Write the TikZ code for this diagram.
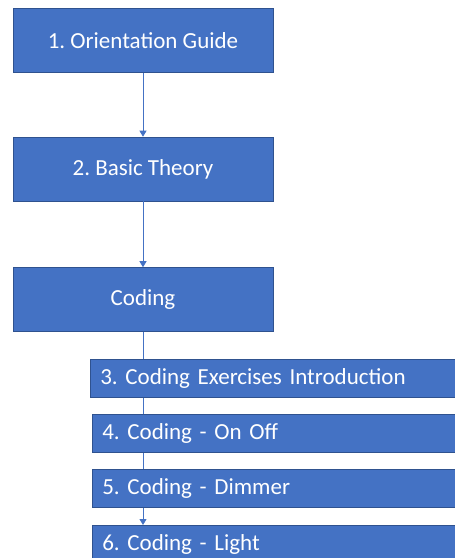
\documentclass[tikz,border=0pt]{standalone}
\usepackage{fontspec}
\setmainfont{Carlito}
\usetikzlibrary{arrows.meta, backgrounds}
\definecolor{boxblue}{HTML}{4472C4}
\definecolor{boxedge}{HTML}{2F528F}
\frenchspacing

\tikzset{
  stage/.style={draw=boxedge, line width=0.6pt, fill=boxblue, text=white,
    minimum width=260pt, minimum height=64pt, inner sep=0pt,
    font=\fontsize{23}{26}\selectfont},
  lesson/.style={draw=boxedge, line width=0.6pt, fill=boxblue, text=white,
    anchor=north west, text width=360pt, inner xsep=10pt, inner ysep=0pt,
    minimum height=38pt, align=left, font=\fontsize{23}{26}\selectfont},
  link/.style={draw=boxblue, line width=0.8pt, -{Triangle[length=6pt,width=7pt]}}
}

\begin{document}
\begin{tikzpicture}[x=1pt, y=-1pt]
  \clip (0,0) rectangle (455,558);

  % main stages
  \node[stage] (guide)  at (143,40.5)  {1. Orientation Guide};
  \node[stage] (theory) at (143,169)   {2. Basic Theory};
  \node[stage] (coding) at (143,299.5) {Coding};

  % coding lessons
  \node[lesson] (intro)  at (90,359) {3. Coding Exercises Introduction};
  \node[lesson] (onoff)  at (92,414) {4. Coding - On Off};
  \node[lesson] (dimmer) at (92,469) {5. Coding - Dimmer};
  \node[lesson] (light)  at (92,525) {6. Coding - Light};

  \draw[link] (guide) -- (theory);
  \draw[link] (theory) -- (coding);
  \begin{scope}[on background layer]
    \draw[link] (coding.south) -- (coding.south |- light.north);
  \end{scope}
\end{tikzpicture}
\end{document}
